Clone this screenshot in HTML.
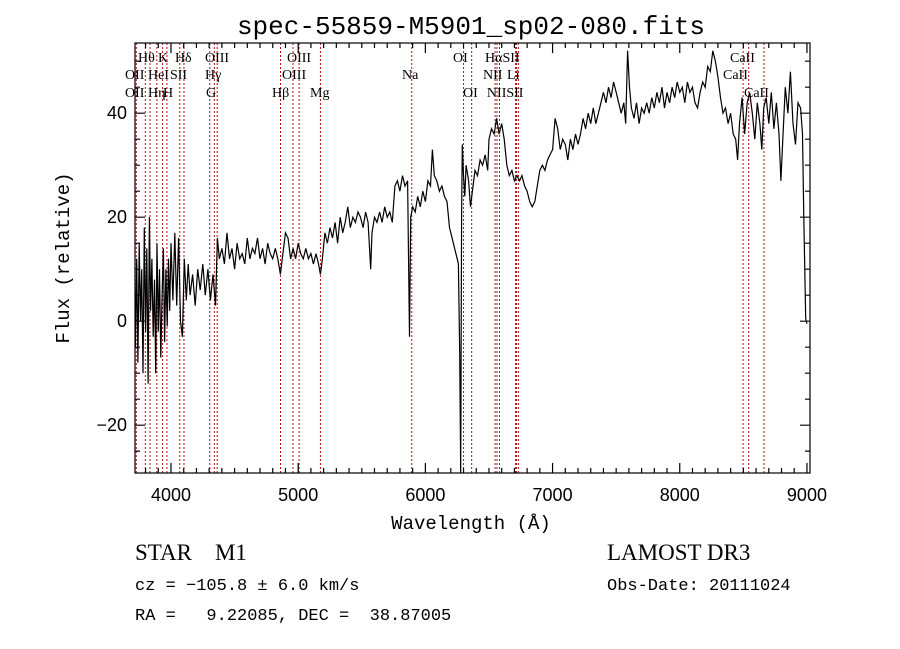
<!DOCTYPE html>
<html><head><meta charset="utf-8"><style>
html,body{margin:0;padding:0;background:#fff;}
svg{display:block;}
text{white-space:pre;}
.mono{font-family:"Liberation Mono",monospace;}
.serif{font-family:"Liberation Serif",serif;}
</style></head><body>
<svg id="chart" width="900" height="649" viewBox="0 0 900 649" xmlns="http://www.w3.org/2000/svg" xml:space="preserve">
<rect width="900" height="649" fill="#fff"/>
<text x="471" y="34" text-anchor="middle" class="mono" font-size="26">spec-55859-M5901_sp02-080.fits</text>
<g id="lines"></g>
<g id="labels"></g>
<path id="spec" fill="none" stroke="#000" stroke-width="1.2"/>
<rect x="135" y="43" width="675" height="430" fill="none" stroke="#000" stroke-width="1.2"/>
<g id="ticks"></g>
<g id="ticklabels"></g>
<text x="471" y="529" text-anchor="middle" class="mono" font-size="19">Wavelength (Å)</text>
<text transform="translate(69,258) rotate(-90)" text-anchor="middle" class="mono" font-size="19">Flux (relative)</text>
<text x="135" y="560" class="serif" font-size="23">STAR    M1</text>
<text x="135" y="590" class="mono" font-size="17">cz = −105.8 ± 6.0 km/s</text>
<text x="135" y="620" class="mono" font-size="17">RA =   9.22085, DEC =  38.87005</text>
<text x="607" y="560" class="serif" font-size="23">LAMOST DR3</text>
<text x="607" y="590" class="mono" font-size="17">Obs-Date: 20111024</text>
</svg>
<script>
const wavelengths=[3720,3730,3740,3750,3760,3770,3780,3790,3800,3810,3820,3830,3840,3850,3860,3870,3880,3890,3900,3910,3920,3930,3940,3950,3960,3970,3980,3990,4000,4015,4030,4045,4060,4075,4090,4105,4120,4135,4150,4170,4190,4210,4230,4250,4270,4290,4310,4330,4350,4365,4380,4400,4420,4440,4460,4480,4500,4520,4540,4560,4580,4600,4620,4640,4660,4680,4700,4720,4740,4760,4780,4800,4820,4840,4860,4880,4900,4920,4940,4960,4980,5000,5020,5040,5060,5080,5100,5120,5140,5160,5175,5190,5210,5230,5250,5270,5290,5310,5330,5350,5370,5390,5410,5430,5450,5470,5490,5510,5530,5550,5570,5580,5600,5620,5640,5660,5680,5700,5720,5740,5760,5780,5800,5820,5840,5860,5875,5885,5900,5920,5940,5960,5980,6000,6020,6040,6055,6070,6090,6110,6130,6150,6170,6190,6210,6230,6250,6260,6270,6278,6285,6290,6300,6310,6320,6340,6355,6370,6390,6410,6430,6450,6470,6490,6500,6520,6540,6560,6580,6600,6620,6640,6660,6680,6700,6720,6740,6760,6780,6800,6820,6840,6860,6880,6900,6920,6940,6960,6980,7000,7020,7040,7060,7080,7100,7120,7140,7160,7180,7200,7220,7240,7260,7280,7300,7320,7340,7360,7380,7400,7420,7440,7460,7480,7500,7520,7540,7560,7575,7590,7605,7620,7640,7660,7680,7700,7720,7740,7760,7780,7800,7820,7840,7860,7880,7900,7920,7940,7960,7980,8000,8020,8040,8060,8080,8100,8120,8140,8160,8180,8200,8220,8240,8260,8280,8300,8320,8340,8360,8380,8400,8420,8440,8455,8470,8490,8510,8530,8550,8570,8590,8610,8630,8645,8660,8680,8700,8720,8740,8760,8780,8795,8810,8830,8850,8870,8890,8910,8930,8950,8965,8975,8990,9000];
const fluxes=[-5,12,-8,15,0,10,-10,18,-2,14,-12,20,2,12,-3,8,-10,15,-2,10,-7,5,14,-4,10,-1,12,2,15,4,17,3,16,0,-3,12,4,11,5,9,3,10,6,11,5,10,4,9,3,16,12,14,11,17,12,14,10,15,12,13,11,16,12,14,13,16,12,14,11,15,13,12,14,12,9,13,17,16,12,14,12,15,13,12,14,12,13,11,13,11,9,12,17,15,18,16,19,15,20,17,19,22,18,20,19,21,20,18,21,19,10,17,20,19,21,19,22,20,21,19,26,27,25,28,26,27,-3,20,22,21,24,22,25,23,27,26,33,28,27,25,26,24,23,18,16,14,12,11,-6,-29.5,20,34,28,24,30,27,22,25,29,28,31,30,32,29,35,37,36,39,36,38,35,30,28,29,27,28,27,28,26,25,23,22,23,26,29,30,29,31,32,33,39,37,33,35,34,31,35,33,36,34,36,39,37,40,38,41,38,40,42,44,42,45,43,46,44,42,40,42,38,52,45,41,39,42,38,41,40,42,40,43,41,44,42,45,41,44,42,45,43,46,44,45,42,46,44,45,42,41,44,46,45,49,48,52,50,47,43,40,41,38,40,36,35,31,38,43,36,42,44,40,35,42,38,33,41,43,38,44,37,42,36,27,35,45,40,48,38,34,42,41,36,20,0.5,-0.5];
const lineNames=["OII","Hθ","Hη","HeI","K","H","SII","Hδ","G","Hγ","OIII","Hβ","OIII","OIII","Mg","Na","OI","OI","NII","Hα","NII","Li","SII","SII","CaII","CaII","CaII"];
const lineWaves=[3727,3798,3835,3889,3934,3968,4069,4102,4305,4341,4363,4861,4959,5007,5175,5893,6300,6364,6548,6563,6583,6708,6716,6731,8498,8542,8662];
const labelText=["Hθ","K","Hδ","OIII","OIII","OI","HαSII","CaII","OII","HeI","SII","Hγ","OIII","Na","NII","Li","CaII","OII","Hη","H","G","Hβ","Mg","OI","NIISII","CaII"];
const labelRow=[0,0,0,0,0,0,0,0,1,1,1,1,1,1,1,1,1,2,2,2,2,2,2,2,2,2];
const labelWave=[3741,3898,4031,4267,4912,6217,6469,8395,3638,3819,3992,4267,4873,5816,6453,6642,8340,3638,3819,3937,4275,4794,5093,6296,6484,8505];
const xTicks=[4000,5000,6000,7000,8000,9000];
const xTickLabels=["4000","5000","6000","7000","8000","9000"];
const yTicks=[-20,0,20,40];
const yTickLabels=["−20","0","20","40"];

const X0=135,X1=810,Y0=43,Y1=473,WMIN=3717,WMAX=9024,FMIN=-29.2,FMAX=53.5;
function xs(w){return X0+(w-WMIN)/(WMAX-WMIN)*(X1-X0);}
function ys(f){return Y1-(f-FMIN)/(FMAX-FMIN)*(Y1-Y0);}
const NS="http://www.w3.org/2000/svg";
function mk(tag,attrs,parent){const e=document.createElementNS(NS,tag);for(const k in attrs)e.setAttribute(k,attrs[k]);parent.appendChild(e);return e;}

let d="";
for(let i=0;i<wavelengths.length;i++){
  const y=Math.max(Y0,Math.min(Y1,ys(fluxes[i])));
  d+=(i?"L":"M")+xs(wavelengths[i]).toFixed(1)+","+y.toFixed(1);
}
document.getElementById('spec').setAttribute('d',d);

const lg=document.getElementById('lines');
for(let i=0;i<lineWaves.length;i++){
  const x=xs(lineWaves[i]);
  const l=mk('line',{x1:x,x2:x,y1:Y0,y2:Y1,stroke:'#b01010','stroke-width':1,'stroke-dasharray':'2,2'},lg);
  
  
}
const lb=document.getElementById('labels');
const rowY=[62,79,97];
for(let i=0;i<labelText.length;i++){
  const t=mk('text',{x:xs(labelWave[i]),y:rowY[labelRow[i]],'font-size':14,'font-family':'"Liberation Serif",serif'},lb);
  t.textContent=labelText[i];
  
  
}
const tg=document.getElementById('ticks');
let td="";
for(let w=3800;w<=9000;w+=100){
  const x=xs(w);const L=(w%1000===0)?10:5;
  td+=`M${x},${Y1}v${-L}M${x},${Y0}v${L}`;
}
for(let f=-25;f<=50;f+=5){
  const y=ys(f);const L=(f%20===0)?10:5;
  td+=`M${X0},${y}h${L}M${X1},${y}h${-L}`;
}
const tp=mk('path',{d:td,stroke:'#000','stroke-width':1.2,fill:'none'},tg);


const tl=document.getElementById('ticklabels');
for(let i=0;i<xTicks.length;i++){
  const t=mk('text',{x:xs(xTicks[i]),y:501,'text-anchor':'middle','font-size':18,'font-family':'"Liberation Sans",sans-serif'},tl);
  t.textContent=xTickLabels[i];
  
  
}
for(let i=0;i<yTicks.length;i++){
  const t=mk('text',{x:127,y:ys(yTicks[i])+6,'text-anchor':'end','font-size':18,'font-family':'"Liberation Sans",sans-serif'},tl);
  t.textContent=yTickLabels[i];
  
  
}
</script>
</body></html>
